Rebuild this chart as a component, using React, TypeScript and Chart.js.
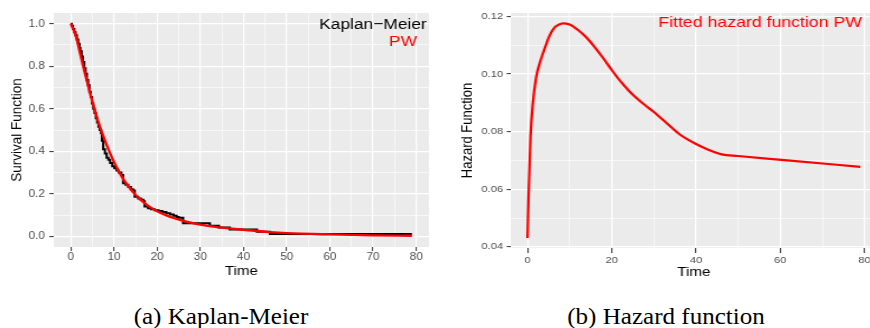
import React, { useEffect, useRef } from 'react';
import { Chart, registerables } from 'chart.js';

Chart.register(...registerables);

const FONT = "'Liberation Sans', Arial, Helvetica, sans-serif";
const SERIF = "'Liberation Serif', 'Times New Roman', serif";

// ---------- Panel (a): Kaplan-Meier estimate (step function) ----------
const kmTime = [
  0, 0.2, 0.5, 0.8, 1.1, 1.4, 1.7, 2.0, 2.2, 2.5, 2.8, 3.1, 3.4, 3.7, 4.0, 4.3, 4.6, 4.9,
  5.2, 5.5, 5.8, 6.1, 6.4, 6.7, 7.0, 7.2, 7.5, 7.9, 8.3, 8.7, 9.1, 9.6, 10.1, 10.6, 11.1,
  11.7, 12.1, 12.7, 13.3, 13.9, 14.4, 14.8, 15.6, 16.2, 16.8, 17.1, 17.9, 18.6, 19.4, 20.3,
  21.2, 22.1, 23.0, 23.8, 24.5, 25.0, 26.0, 32.2, 34.3, 36.8, 43.1, 46.1, 79.0,
];
const kmSurv = [
  1.0, 0.99, 0.975, 0.96, 0.945, 0.925, 0.905, 0.885, 0.87, 0.845, 0.82, 0.79, 0.765, 0.735,
  0.71, 0.68, 0.655, 0.625, 0.6, 0.58, 0.555, 0.535, 0.515, 0.5, 0.485, 0.45, 0.41, 0.39,
  0.37, 0.36, 0.345, 0.33, 0.32, 0.31, 0.3, 0.288, 0.25, 0.243, 0.232, 0.222, 0.216, 0.186,
  0.178, 0.172, 0.165, 0.14, 0.132, 0.127, 0.123, 0.119, 0.115, 0.109, 0.103, 0.097, 0.091,
  0.087, 0.0615, 0.05, 0.042, 0.032, 0.022, 0.011, 0.011,
];

// Fitted PW survival function
const pwTime = [
  0, 0.5, 1, 1.5, 2, 2.5, 3, 3.5, 4, 4.5, 5, 5.5, 6, 6.5, 7, 7.5, 8, 9, 10, 11, 12, 13, 14,
  15, 16, 18, 20, 22, 24, 26, 28, 30, 33, 36, 40, 46, 50, 60, 70, 79,
];
const pwSurv = [
  1.0, 0.977, 0.952, 0.917, 0.872, 0.829, 0.788, 0.748, 0.708, 0.669, 0.632, 0.597, 0.563,
  0.53, 0.5, 0.472, 0.445, 0.395, 0.35, 0.31, 0.274, 0.244, 0.218, 0.195, 0.175, 0.142,
  0.118, 0.1, 0.085, 0.073, 0.063, 0.055, 0.046, 0.039, 0.031, 0.02, 0.015, 0.009, 0.005,
  0.003,
];

// ---------- Panel (b): fitted hazard function ----------
const hazTime = [
  0, 0.25, 0.72, 1.27, 2.06, 3.09, 4.43, 5.2, 6.4, 7.4, 8.4, 10, 12, 14, 16, 18, 20, 22, 24,
  26, 28, 30, 32, 34, 36, 38, 40, 42, 44, 46.1, 50, 60.3, 79.0,
];
const hazValue = [
  0.0431, 0.0574, 0.0781, 0.0897, 0.0988, 0.1046, 0.1103, 0.1132, 0.1161, 0.1171, 0.1176,
  0.1172, 0.1153, 0.1127, 0.1093, 0.1055, 0.1014, 0.0976, 0.0943, 0.0915, 0.0891, 0.0868,
  0.0843, 0.0817, 0.0792, 0.0773, 0.0757, 0.0743, 0.0731, 0.0721, 0.07155, 0.0702, 0.0678,
];

// ---------- Ticks / ranges / labels ----------
const kmXTicks = [0, 5, 10, 15, 20, 25, 30, 35, 40, 45, 50, 55, 60, 65, 70, 75, 80];
const kmYTicks = [0, 0.1, 0.2, 0.3, 0.4, 0.5, 0.6, 0.7, 0.8, 0.9, 1.0];
const hazXTicks = [0, 10, 20, 30, 40, 50, 60, 70, 80];
const hazYTicks = [0.04, 0.05, 0.06, 0.07, 0.08, 0.09, 0.1, 0.11, 0.12];

const kmXRange = [-3.95, 82.95];
const kmYRange = [-0.05, 1.05];
const hazXRange = [-3.95, 82.95];
const hazYRange = [0.0396, 0.1212];

const xTitle = 'Time';
const kmYTitle = 'Survival Function';
const hazYTitle = 'Hazard Function';
const kmLegend1 = 'Kaplan\u2212Meier';
const kmLegend2 = 'PW';
const hazLegend = 'Fitted hazard function PW';
const captionA = '(a) Kaplan-Meier';
const captionB = '(b) Hazard function';

const near = (a: number, b: number) => Math.abs(a - b) < 1e-6;
const kmXMajor = (v: number) => near(v % 10, 0);
const kmYMajor = (v: number) => near(Math.round(v * 5), v * 5);
const hazXMajor = (v: number) => near(v % 20, 0);
const hazYMajor = (v: number) => near(Math.round(v * 50), v * 50);

const bgPlugin = {
  id: 'panelBg',
  beforeDraw(chart: any) {
    const { ctx, chartArea: a } = chart;
    ctx.save();
    ctx.fillStyle = '#EBEBEB';
    ctx.fillRect(a.left, a.top, a.right - a.left, a.bottom - a.top);
    ctx.restore();
  },
};

function makeAxis(opts: {
  ticks: number[];
  major: (v: number) => boolean;
  fmt: (v: number) => string;
  range: number[];
  fontSize: number;
  tickLen: number;
  pad: number;
  size: number;
  horizontal: boolean;
  title: string;
  titleSize: number;
  titlePad: any;
}) {
  const o = opts;
  return {
    type: 'linear',
    min: o.range[0],
    max: o.range[1],
    afterBuildTicks: (s: any) => {
      s.ticks = o.ticks.map((v) => ({ value: v }));
    },
    afterFit: (s: any) => {
      if (o.horizontal) s.height = o.size;
      else s.width = o.size;
    },
    grid: {
      color: '#FFFFFF',
      lineWidth: (c: any) => (c.tick && o.major(c.tick.value) ? 1.2 : 0.6),
      tickColor: (c: any) => (c.tick && o.major(c.tick.value) ? '#333333' : 'rgba(0,0,0,0)'),
      tickWidth: 1,
      tickLength: o.tickLen,
      drawTicks: true,
    },
    border: { display: false },
    ticks: {
      autoSkip: false,
      maxRotation: 0,
      minRotation: 0,
      padding: o.pad,
      color: '#4D4D4D',
      font: { family: FONT, size: o.fontSize },
      callback: (v: any) => (o.major(Number(v)) ? o.fmt(Number(v)) : ''),
    },
    title: {
      display: true,
      text: o.title,
      color: '#000000',
      font: { family: FONT, size: o.titleSize },
      padding: o.titlePad,
    },
  };
}

function leftConfig(): any {
  const labels = {
    id: 'kmLabels',
    afterDraw(chart: any) {
      const { ctx, chartArea: a } = chart;
      ctx.save();
      ctx.font = `15.5px ${FONT}`;
      ctx.textAlign = 'right';
      ctx.textBaseline = 'middle';
      ctx.fillStyle = '#000000';
      ctx.fillText(kmLegend1, a.right - 2, 24.5);
      ctx.fillStyle = '#FF0000';
      ctx.fillText(kmLegend2, a.right - 10.7, 41.5);
      ctx.restore();
    },
  };
  return {
    type: 'line',
    data: {
      datasets: [
        {
          label: 'PW',
          data: pwTime.map((t, i) => ({ x: t, y: pwSurv[i] })),
          borderColor: '#FF0000',
          borderWidth: 2.3,
          pointRadius: 0,
          cubicInterpolationMode: 'monotone',
          fill: false,
        },
        {
          label: 'Kaplan-Meier',
          data: kmTime.map((t, i) => ({ x: t, y: kmSurv[i] })),
          borderColor: '#000000',
          borderWidth: 2,
          pointRadius: 0,
          stepped: 'before',
          fill: false,
        },
      ],
    },
    options: {
      responsive: false,
      animation: false,
      devicePixelRatio: 1,
      layout: { padding: { left: 0, right: 10, top: 13, bottom: 0 } },
      plugins: { legend: { display: false }, tooltip: { enabled: false } },
      scales: {
        x: makeAxis({
          ticks: kmXTicks, major: kmXMajor, fmt: (v) => String(v), range: kmXRange,
          fontSize: 10.5, tickLen: 4, pad: 0, size: 43, horizontal: true,
          title: xTitle, titleSize: 13.5, titlePad: { top: 0, bottom: 11 },
        }),
        y: makeAxis({
          ticks: kmYTicks, major: kmYMajor, fmt: (v) => v.toFixed(1), range: kmYRange,
          fontSize: 10.5, tickLen: 4, pad: 4, size: 48, horizontal: false,
          title: kmYTitle, titleSize: 13.5, titlePad: { top: 7, bottom: 0 },
        }),
      },
    },
    plugins: [bgPlugin, labels],
  };
}

function rightConfig(): any {
  const labels = {
    id: 'hazLabels',
    afterDraw(chart: any) {
      const { ctx, chartArea: a } = chart;
      ctx.save();
      ctx.font = `15px ${FONT}`;
      ctx.textAlign = 'right';
      ctx.textBaseline = 'middle';
      ctx.fillStyle = '#FF0000';
      ctx.fillText(hazLegend, a.right - 12.7, 22.7);
      ctx.restore();
    },
  };
  return {
    type: 'line',
    data: {
      datasets: [
        {
          label: 'Hazard',
          data: hazTime.map((t, i) => ({ x: t, y: hazValue[i] })),
          borderColor: '#FF0000',
          borderWidth: 2.2,
          pointRadius: 0,
          cubicInterpolationMode: 'monotone',
          fill: false,
        },
      ],
    },
    options: {
      responsive: false,
      animation: false,
      devicePixelRatio: 1,
      layout: { padding: { left: 0, right: 29.7, top: 13, bottom: 0 } },
      plugins: { legend: { display: false }, tooltip: { enabled: false } },
      scales: {
        x: makeAxis({
          ticks: hazXTicks, major: hazXMajor, fmt: (v) => String(v), range: hazXRange,
          fontSize: 9.5, tickLen: 5, pad: 1.5, size: 42, horizontal: true,
          title: xTitle, titleSize: 13, titlePad: { top: 0, bottom: 10.2 },
        }),
        y: makeAxis({
          ticks: hazYTicks, major: hazYMajor, fmt: (v) => v.toFixed(2), range: hazYRange,
          fontSize: 9.5, tickLen: 3.5, pad: 3, size: 60, horizontal: false,
          title: hazYTitle, titleSize: 13, titlePad: { top: 15.5, bottom: 0 },
        }),
      },
    },
    plugins: [bgPlugin, labels],
  };
}

export default function App() {
  const leftRef = useRef<HTMLCanvasElement>(null);
  const rightRef = useRef<HTMLCanvasElement>(null);

  useEffect(() => {
    const c1 = new Chart(leftRef.current as HTMLCanvasElement, leftConfig());
    const c2 = new Chart(rightRef.current as HTMLCanvasElement, rightConfig());
    return () => {
      c1.destroy();
      c2.destroy();
    };
  }, []);

  const caption: React.CSSProperties = {
    position: 'absolute',
    top: 304.5,
    fontFamily: SERIF,
    fontSize: 23,
    lineHeight: '23px',
    whiteSpace: 'nowrap',
    color: '#000',
    transform: 'translateX(-50%) scaleX(1.09)',
    transformOrigin: '50% 50%',
  };

  return (
    <div
      style={{
        position: 'absolute',
        left: 0,
        top: 0,
        width: 870,
        height: 328,
        overflow: 'hidden',
        background: '#FFFFFF',
      }}
    >
      <div
        style={{
          position: 'absolute', left: 0, top: 0, width: 393, height: 290,
          transform: 'scaleX(1.12)', transformOrigin: '0 0',
        }}
      >
        <canvas ref={leftRef} width={393} height={290} style={{ width: 393, height: 290, display: 'block' }} />
      </div>
      <div
        style={{
          position: 'absolute', left: 440, top: 0, width: 400, height: 290,
          transform: 'scaleX(1.18)', transformOrigin: '0 0',
        }}
      >
        <canvas ref={rightRef} width={400} height={290} style={{ width: 400, height: 290, display: 'block' }} />
      </div>
      <div style={{ ...caption, left: 221 }}>{captionA}</div>
      <div style={{ ...caption, left: 666 }}>{captionB}</div>
    </div>
  );
}
